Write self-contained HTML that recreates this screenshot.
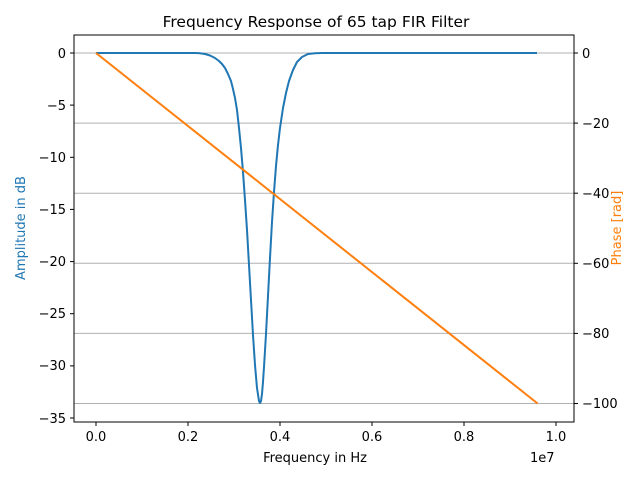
<!DOCTYPE html>
<html><head><style>body{margin:0;background:#fff}svg{display:block}text{font-family:"DejaVu Sans","Liberation Sans",sans-serif;font-size:13px}</style></head><body>
<svg width="640" height="480" viewBox="0 0 640 480">
<rect width="640" height="480" fill="#fff"/>
<g stroke="#b0b0b0" stroke-width="1">
<line x1="74" x2="574" y1="53" y2="53"/><line x1="74" x2="574" y1="123.1" y2="123.1"/><line x1="74" x2="574" y1="193.2" y2="193.2"/><line x1="74" x2="574" y1="263.3" y2="263.3"/><line x1="74" x2="574" y1="333.4" y2="333.4"/><line x1="74" x2="574" y1="403.5" y2="403.5"/>
</g>
<polyline fill="none" stroke="#1f77b4" stroke-width="2" stroke-linejoin="round" points="96,53 195,53 200,53.3 205,54 210,55.5 215,58 219,61 222,64 225,68 228,74 231,81 233,89 235,98 237,110 239,128 241,148 243,172 245,200 247,230 249,265 251,300 253,335 255,365 257,388 259,401 260,403 261,401 262,394 263,382 264,367 266,334 268,296 270,258 272,222 274,192 276,166 278,145 280,128 283,108 286,93 289,81 293,70 297,62 302,57 308,54 315,53.2 322,53 537,53"/>
<line x1="96" y1="53" x2="537.6" y2="403.5" stroke="#ff7f0e" stroke-width="2"/>
<rect x="74" y="35" width="500" height="387" fill="none" stroke="#000" stroke-width="1"/>
<g stroke="#000">
<line x1="96" x2="96" y1="422" y2="426"/><line x1="188" x2="188" y1="422" y2="426"/><line x1="280" x2="280" y1="422" y2="426"/><line x1="372" x2="372" y1="422" y2="426"/><line x1="464" x2="464" y1="422" y2="426"/><line x1="556" x2="556" y1="422" y2="426"/>
<line x1="70" x2="74" y1="53" y2="53"/><line x1="70" x2="74" y1="105.1" y2="105.1"/><line x1="70" x2="74" y1="157.3" y2="157.3"/><line x1="70" x2="74" y1="209.4" y2="209.4"/><line x1="70" x2="74" y1="261.6" y2="261.6"/><line x1="70" x2="74" y1="313.7" y2="313.7"/><line x1="70" x2="74" y1="365.9" y2="365.9"/><line x1="70" x2="74" y1="418" y2="418"/>
<line x1="574" x2="578" y1="53" y2="53"/><line x1="574" x2="578" y1="123.1" y2="123.1"/><line x1="574" x2="578" y1="193.2" y2="193.2"/><line x1="574" x2="578" y1="263.3" y2="263.3"/><line x1="574" x2="578" y1="333.4" y2="333.4"/><line x1="574" x2="578" y1="403.5" y2="403.5"/>
</g>
<g text-anchor="middle">
<text x="96" y="441">0.0</text><text x="188" y="441">0.2</text><text x="280" y="441">0.4</text><text x="372" y="441">0.6</text><text x="464" y="441">0.8</text><text x="556" y="441">1.0</text>
<text x="315" y="462">Frequency in Hz</text>
<text x="316" y="27" style="font-size:15.5px">Frequency Response of 65 tap FIR Filter</text>
</g>
<text x="530" y="462">1e7</text>
<g text-anchor="end">
<text x="66" y="58">0</text><text x="66" y="110">−5</text><text x="66" y="162">−10</text><text x="66" y="214">−15</text><text x="66" y="266">−20</text><text x="66" y="318">−25</text><text x="66" y="370">−30</text><text x="66" y="423">−35</text>
</g>
<g>
<text x="582" y="58">0</text><text x="582" y="128">−20</text><text x="582" y="198">−40</text><text x="582" y="268">−60</text><text x="582" y="338">−80</text><text x="582" y="408">−100</text>
</g>
<text transform="translate(25,228) rotate(-90)" text-anchor="middle" fill="#1f77b4">Amplitude in dB</text>
<text transform="translate(621,228) rotate(-90)" text-anchor="middle" fill="#ff7f0e">Phase [rad]</text>
</svg>
</body></html>
